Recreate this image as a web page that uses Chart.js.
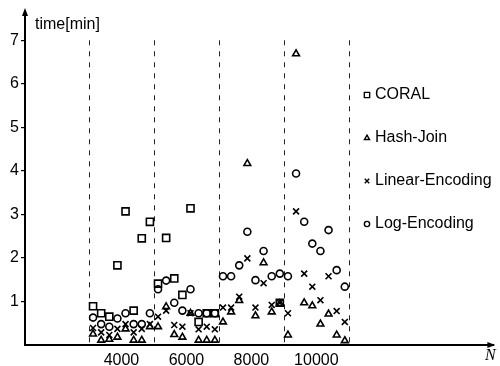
<!DOCTYPE html>
<html>
<head>
<meta charset="utf-8">
<script src="https://cdn.jsdelivr.net/npm/chart.js@4.4.1/dist/chart.umd.min.js"></script>
<style>
  html, body { margin: 0; padding: 0; background: #fff; }
  #wrap { width: 500px; height: 366px; }
</style>
</head>
<body>
<div id="wrap"><canvas id="timeChart"></canvas></div>
<script>
// N values: 8 runs per block, 4 blocks
const nValues = [
  3125, 3375, 3625, 3875, 4125, 4375, 4625, 4875,
  5125, 5375, 5625, 5875, 6125, 6375, 6625, 6875,
  7125, 7375, 7625, 7875, 8125, 8375, 8625, 8875,
  9125, 9375, 9625, 9875, 10125, 10375, 10625, 10875
];

// times in minutes (null = no measurement)
const coral = [
  0.89, 0.73, 0.65, 1.83, 3.07, 0.79, 2.45, 2.83,
  1.41, 2.46, 1.53, 1.15, 3.14, 0.53, 0.73, 0.73,
  null, null, null, null, null, null, null, 0.97,
  null, null, null, null, null, null, null, null
];
const hashJoin = [
  0.25, 0.11, 0.13, 0.18, 0.37, 0.11, 0.11, 0.42,
  0.42, 0.88, 0.24, 0.18, 0.73, 0.11, 0.11, 0.11,
  0.53, 0.76, 1.02, 4.17, 0.67, 1.89, 0.76, 0.95,
  0.23, 6.69, 0.97, 0.90, 0.48, 0.71, 0.23, 0.10
];
const linearEnc = [
  0.39, 0.29, 0.23, 0.37, 0.48, 0.29, 0.37, 0.48,
  0.65, 0.79, 0.46, 0.42, 0.73, 0.36, 0.42, 0.36,
  0.86, 0.86, 1.11, 1.99, 0.86, 1.42, 0.92, 0.97,
  0.73, 3.07, 1.64, 1.34, 1.03, 1.58, 0.78, 0.53
];
const logEnc = [
  0.63, 0.48, 0.42, 0.61, 0.73, 0.48, 0.48, 0.73,
  1.28, 1.48, 0.97, 0.79, 1.28, 0.73, 0.73, 0.73,
  1.58, 1.58, 1.83, 2.60, 1.49, 2.16, 1.58, 1.64,
  1.58, 3.94, 2.83, 2.33, 2.16, 2.64, 1.72, 1.34
];

const seriesNames = ['CORAL', 'Hash-Join', 'Linear-Encoding', 'Log-Encoding'];
const blockBounds = [3000, 5000, 7000, 9000, 11000];
const xTicks = [4000, 6000, 8000, 10000];
const yTicks = [1, 2, 3, 4, 5, 6, 7];

const FONT = '"Liberation Sans", Arial, Helvetica, sans-serif';

function toPoints(values) {
  return nValues
    .map((n, i) => ({ x: n, y: values[i] }))
    .filter(p => p.y !== null);
}

function serie(label, values, style, radius) {
  return {
    label: label,
    data: toPoints(values),
    pointStyle: style,
    pointRadius: radius,
    pointBorderWidth: 1.6,
    pointBorderColor: '#000',
    pointBackgroundColor: 'rgba(0,0,0,0)',
    showLine: false
  };
}

const extras = {
  id: 'extras',
  beforeDatasetsDraw(chart) {
    const ctx = chart.ctx;
    const x = chart.scales.x, y = chart.scales.y;
    ctx.save();
    ctx.strokeStyle = '#222';
    ctx.lineWidth = 1;
    ctx.setLineDash([5, 6]);
    blockBounds.forEach(b => {
      const px = Math.round(x.getPixelForValue(b)) + 0.5;
      ctx.beginPath();
      ctx.moveTo(px, y.getPixelForValue(7));
      ctx.lineTo(px, y.getPixelForValue(0));
      ctx.stroke();
    });
    ctx.restore();
  },
  afterDraw(chart) {
    const ctx = chart.ctx;
    const a = chart.chartArea;
    ctx.save();
    ctx.fillStyle = '#000';
    // arrow heads
    ctx.beginPath();
    ctx.moveTo(a.left, a.top - 4);
    ctx.lineTo(a.left - 3, a.top + 4);
    ctx.lineTo(a.left + 3, a.top + 4);
    ctx.closePath();
    ctx.fill();
    ctx.beginPath();
    ctx.moveTo(a.right + 2, a.bottom);
    ctx.lineTo(a.right - 6, a.bottom - 3);
    ctx.lineTo(a.right - 6, a.bottom + 3);
    ctx.closePath();
    ctx.fill();

    // axis titles
    ctx.font = '16px ' + FONT;
    ctx.textBaseline = 'middle';
    ctx.textAlign = 'left';
    ctx.fillText('time[min]', 35, 25);
    ctx.font = 'italic 16px "Liberation Serif", "Times New Roman", serif';
    ctx.fillText('N', 485, 356);

    // legend
    const rows = [95, 138, 181, 224];
    ctx.font = '16px ' + FONT;
    chart.data.datasets.forEach((ds, i) => {
      ctx.strokeStyle = '#000';
      ctx.fillStyle = 'rgba(0,0,0,0)';
      ctx.lineWidth = 1.4;
      Chart.helpers.drawPoint(ctx, {
        pointStyle: ds.pointStyle,
        radius: ds.pointRadius * 0.75,
        borderWidth: 1.4,
        rotation: 0
      }, 367, rows[i]);
      ctx.fillStyle = '#000';
      ctx.fillText(seriesNames[i], 375, rows[i]);
    });
    ctx.restore();
  }
};

new Chart(document.getElementById('timeChart'), {
  type: 'scatter',
  data: {
    datasets: [
      serie(seriesNames[0], coral, 'rect', 5),
      serie(seriesNames[1], hashJoin, 'triangle', 3.9),
      serie(seriesNames[2], linearEnc, 'crossRot', 4.2),
      serie(seriesNames[3], logEnc, 'circle', 3.5)
    ]
  },
  options: {
    responsive: true,
    maintainAspectRatio: false,
    animation: false,
    layout: { padding: { top: 12, right: 3, left: 0, bottom: 0 } },
    plugins: {
      legend: { display: false },
      tooltip: { enabled: false }
    },
    scales: {
      x: {
        type: 'linear',
        min: 1030,
        max: 15450,
        afterBuildTicks: s => { s.ticks = xTicks.map(v => ({ value: v })); },
        afterFit: s => { s.height = 21; },
        grid: { display: false, drawTicks: false },
        border: { display: true, color: '#000', width: 2 },
        ticks: {
          color: '#000',
          font: { family: FONT, size: 16 },
          padding: 6,
          maxRotation: 0,
          callback: v => String(v)
        }
      },
      y: {
        type: 'linear',
        min: 0,
        max: 7.65,
        afterBuildTicks: s => { s.ticks = yTicks.map(v => ({ value: v })); },
        afterFit: s => { s.width = 25; },
        grid: { drawOnChartArea: false, drawTicks: true, tickLength: 4, color: '#000', lineWidth: 1.2 },
        border: { display: true, color: '#000', width: 2 },
        ticks: {
          color: '#000',
          font: { family: FONT, size: 16 },
          padding: 2
        }
      }
    }
  },
  plugins: [extras]
});
</script>
</body>
</html>
